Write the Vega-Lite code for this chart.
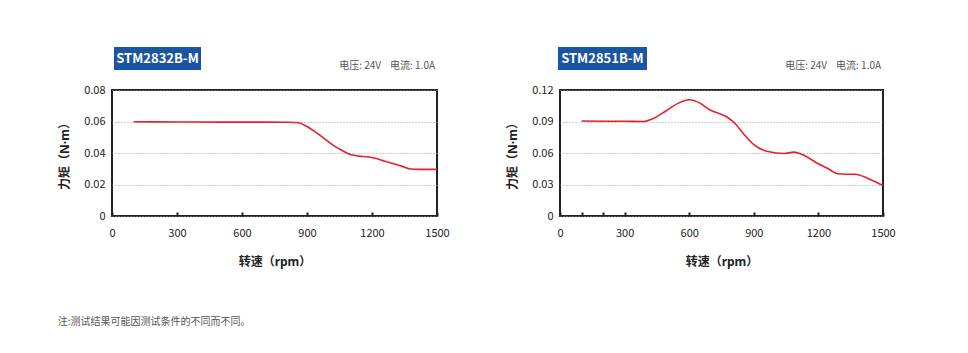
{
  "$schema": "https://vega.github.io/schema/vega-lite/v6.json",
  "padding": {"left": 57, "top": 45, "right": 5, "bottom": 5},
  "background": "white",
  "config": {
    "font": "Noto Sans CJK SC",
    "view": {"stroke": "#222", "strokeWidth": 2},
    "axis": {
      "domain": false,
      "labelFontSize": 11,
      "labelColor": "#222",
      "labelOverlap": false,
      "titleFont": "Noto Sans, Noto Sans CJK SC",
      "titleFontSize": 12,
      "titleFontWeight": "bold",
      "titleColor": "#222",
      "gridColor": "#999",
      "gridDash": [1, 2],
      "gridWidth": 1
    },
    "axisX": {
      "grid": false,
      "tickSize": -4,
      "tickWidth": 2,
      "tickColor": "#222",
      "labelPadding": 15,
      "titlePadding": 18,
      "labelFlush": false,
      "labelAngle": 0,
      "format": "d"
    },
    "axisY": {
      "grid": true,
      "ticks": false,
      "labelPadding": 7,
      "titlePadding": 12
    }
  },
  "datasets": {
    "m1": [
      {"rpm": 100, "torque": 0.0598},
      {"rpm": 300, "torque": 0.0597},
      {"rpm": 500, "torque": 0.0596},
      {"rpm": 700, "torque": 0.0596},
      {"rpm": 820, "torque": 0.0595},
      {"rpm": 860, "torque": 0.0592},
      {"rpm": 900, "torque": 0.0568},
      {"rpm": 940, "torque": 0.0532},
      {"rpm": 980, "torque": 0.0491},
      {"rpm": 1020, "torque": 0.045},
      {"rpm": 1060, "torque": 0.0417},
      {"rpm": 1100, "torque": 0.039},
      {"rpm": 1140, "torque": 0.038},
      {"rpm": 1180, "torque": 0.0376},
      {"rpm": 1220, "torque": 0.0365},
      {"rpm": 1260, "torque": 0.0348},
      {"rpm": 1300, "torque": 0.0332},
      {"rpm": 1340, "torque": 0.0315},
      {"rpm": 1380, "torque": 0.0298},
      {"rpm": 1420, "torque": 0.0296},
      {"rpm": 1500, "torque": 0.0296}
    ],
    "m2": [
      {"rpm": 100, "torque": 0.0905},
      {"rpm": 200, "torque": 0.0903},
      {"rpm": 300, "torque": 0.0902},
      {"rpm": 390, "torque": 0.09},
      {"rpm": 430, "torque": 0.0925},
      {"rpm": 490, "torque": 0.0998},
      {"rpm": 550, "torque": 0.1075},
      {"rpm": 600, "torque": 0.1107},
      {"rpm": 650, "torque": 0.1075},
      {"rpm": 695, "torque": 0.1012},
      {"rpm": 740, "torque": 0.0975},
      {"rpm": 775, "torque": 0.0943},
      {"rpm": 810, "torque": 0.0886},
      {"rpm": 855, "torque": 0.0776},
      {"rpm": 900, "torque": 0.068},
      {"rpm": 965, "torque": 0.0614},
      {"rpm": 1040, "torque": 0.0595},
      {"rpm": 1085, "torque": 0.0608},
      {"rpm": 1135, "torque": 0.0576},
      {"rpm": 1195, "torque": 0.0503},
      {"rpm": 1250, "torque": 0.0445},
      {"rpm": 1290, "torque": 0.0402},
      {"rpm": 1330, "torque": 0.0398},
      {"rpm": 1370, "torque": 0.0398},
      {"rpm": 1430, "torque": 0.0358},
      {"rpm": 1500, "torque": 0.029}
    ]
  },
  "title": {
    "text": "注:测试结果可能因测试条件的不同而不同。",
    "orient": "bottom",
    "anchor": "start",
    "fontSize": 10,
    "fontWeight": "normal",
    "color": "#555",
    "offset": 49
  },
  "bounds": "flush",
  "spacing": 123,
  "hconcat": [
    {
      "width": 325,
      "height": 126,
      "layer": [
        {
          "data": {"name": "m1"},
          "mark": {"type": "line", "color": "#e8202a", "strokeWidth": 1.6, "interpolate": "monotone"},
          "encoding": {
            "x": {
              "field": "rpm", "type": "quantitative",
              "scale": {"domain": [0, 1500], "nice": false, "zero": false},
              "axis": {"values": [0, 300, 600, 900, 1200, 1500], "title": "转速（rpm）"}
            },
            "y": {
              "field": "torque", "type": "quantitative",
              "scale": {"domain": [0, 0.08], "nice": false},
              "axis": {"values": [0, 0.02, 0.04, 0.06, 0.08], "tickCount": 5, "labelExpr": "datum.value == 0 ? '0' : format(datum.value, '.2f')", "title": "力矩（N·m）"}
            }
          }
        },
        {
          "data": {"values": [{}]},
          "mark": {"type": "rect", "color": "#1a55a3"},
          "encoding": {
            "x": {"datum": 9.2, "type": "quantitative", "scale": {"domain": [0, 1500], "nice": false, "zero": false}},
            "x2": {"datum": 410.8},
            "y": {"datum": 0.1073, "type": "quantitative", "scale": {"domain": [0, 0.08], "nice": false}},
            "y2": {"datum": 0.0927}
          }
        },
        {
          "data": {"values": [{}]},
          "mark": {"type": "text", "color": "white", "fontSize": 13, "fontWeight": "bold", "align": "center", "baseline": "middle"},
          "encoding": {
            "x": {"datum": 210, "type": "quantitative"},
            "y": {"datum": 0.1, "type": "quantitative"},
            "text": {"value": "STM2832B-M"}
          }
        },
        {
          "data": {"values": [{}]},
          "mark": {"type": "text", "color": "#555", "fontSize": 10, "align": "right", "baseline": "middle"},
          "encoding": {
            "x": {"datum": 1491, "type": "quantitative"},
            "y": {"datum": 0.0952, "type": "quantitative"},
            "text": {"value": "电压: 24V\u00a0\u00a0\u00a0\u00a0电流: 1.0A"}
          }
        }
      ]
    },
    {
      "width": 323,
      "height": 126,
      "layer": [
        {
          "data": {"name": "m2"},
          "mark": {"type": "line", "color": "#e8202a", "strokeWidth": 1.6, "interpolate": "monotone"},
          "encoding": {
            "x": {
              "field": "rpm", "type": "quantitative",
              "scale": {"domain": [0, 1500], "nice": false, "zero": false},
              "axis": {"values": [0, 100, 200, 300, 600, 900, 1200, 1500], "labelExpr": "datum.value == 100 || datum.value == 200 ? '' : datum.label", "title": "转速（rpm）"}
            },
            "y": {
              "field": "torque", "type": "quantitative",
              "scale": {"domain": [0, 0.12], "nice": false},
              "axis": {"values": [0, 0.03, 0.06, 0.09, 0.12], "tickCount": 5, "labelExpr": "datum.value == 0 ? '0' : format(datum.value, '.2f')", "title": "力矩（N·m）"}
            }
          }
        },
        {
          "data": {"values": [{}]},
          "mark": {"type": "rect", "color": "#1a55a3"},
          "encoding": {
            "x": {"datum": -9.3, "type": "quantitative", "scale": {"domain": [0, 1500], "nice": false, "zero": false}},
            "x2": {"datum": 404},
            "y": {"datum": 0.161, "type": "quantitative", "scale": {"domain": [0, 0.12], "nice": false}},
            "y2": {"datum": 0.139}
          }
        },
        {
          "data": {"values": [{}]},
          "mark": {"type": "text", "color": "white", "fontSize": 13, "fontWeight": "bold", "align": "center", "baseline": "middle"},
          "encoding": {
            "x": {"datum": 197, "type": "quantitative"},
            "y": {"datum": 0.15, "type": "quantitative"},
            "text": {"value": "STM2851B-M"}
          }
        },
        {
          "data": {"values": [{}]},
          "mark": {"type": "text", "color": "#555", "fontSize": 10, "align": "right", "baseline": "middle"},
          "encoding": {
            "x": {"datum": 1491, "type": "quantitative"},
            "y": {"datum": 0.1429, "type": "quantitative"},
            "text": {"value": "电压: 24V\u00a0\u00a0\u00a0\u00a0电流: 1.0A"}
          }
        }
      ]
    }
  ]
}
